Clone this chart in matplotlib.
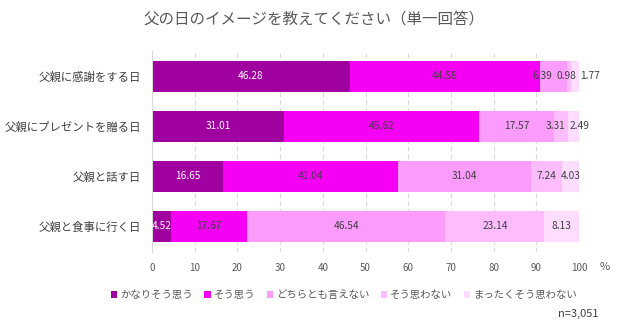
import numpy as np
import matplotlib
matplotlib.use('Agg')
import matplotlib.pyplot as plt

plt.rcParams['font.family'] = ['Noto Sans CJK JP', 'DejaVu Sans']

# データ
categories = ['父親に感謝をする日', '父親にプレゼントを贈る日', '父親と話す日', '父親と食事に行く日']
series_names = ['かなりそう思う', 'そう思う', 'どちらとも言えない', 'そう思わない', 'まったくそう思わない']
values = np.array([
    [46.28, 44.58, 6.39, 0.98, 1.77],
    [31.01, 45.62, 17.57, 3.31, 2.49],
    [16.65, 41.04, 31.04, 7.24, 4.03],
    [4.52, 17.67, 46.54, 23.14, 8.13],
])
colors = ['#A0009F', '#F500F5', '#FB9BFB', '#FDBCFD', '#FEDDFE']
label_colors = ['white', '#404040', '#404040', '#404040', '#404040']
xticks = list(range(0, 101, 10))

fig = plt.figure(figsize=(6.37, 3.34), dpi=100)
ax = fig.add_axes([0.2386, 0.247, 0.6704, 0.599])

y = np.arange(len(categories))
left = np.zeros(len(categories))
centers = []
for j, name in enumerate(series_names):
    ax.barh(y, values[:, j], left=left, height=0.62, color=colors[j], label=name, zorder=2)
    centers.append(left + values[:, j] / 2)
    left = left + values[:, j]
centers = np.array(centers).T

# ラベルが重ならないように広げる
def spread(pos, gap=5.5):
    pos = list(pos)
    groups = [[i] for i in range(len(pos))]
    changed = True
    while changed:
        changed = False
        placed = []
        for g in groups:
            m = np.mean([pos[i] for i in g])
            placed.append((g, m))
        new_groups = [placed[0][0]]
        for g, m in placed[1:]:
            prev = new_groups[-1]
            pm = np.mean([pos[i] for i in prev])
            pe = pm + (len(prev) - 1) * gap / 2
            cs = m - (len(g) - 1) * gap / 2
            if cs - pe < gap:
                new_groups[-1] = prev + g
                changed = True
            else:
                new_groups.append(g)
        groups = new_groups
    out = []
    for g in groups:
        m = np.mean([pos[i] for i in g])
        for k, i in enumerate(g):
            out.append(m + (k - (len(g) - 1) / 2) * gap)
    return out

for i in range(len(categories)):
    xs = spread(centers[i])
    for j in range(len(series_names)):
        ax.text(xs[j], y[i], f'{values[i, j]:.2f}', ha='center', va='center',
                fontsize=7.3, color=label_colors[j], zorder=3)

ax.set_xlim(0, 100)
ax.set_ylim(len(categories) - 0.5, -0.5)
ax.set_xticks(xticks)
ax.set_xticklabels([str(t) for t in xticks], fontsize=7, color='#595959')
ax.set_yticks(y)
ax.set_yticklabels(categories, fontsize=8.2, color='#404040')
ax.tick_params(axis='x', length=0, pad=8)
ax.tick_params(axis='y', length=0, pad=8)
ax.grid(axis='x', color='#D9D9D9', linestyle=(0, (4, 3)), linewidth=0.8, zorder=0)
for s in ['top', 'right', 'bottom']:
    ax.spines[s].set_visible(False)
ax.spines['left'].set_color('#D9D9D9')

fig.text(0.95, 0.2, '%', fontsize=8, color='#595959', ha='center', va='center')
fig.text(0.493, 0.94, '父の日のイメージを教えてください（単一回答）', fontsize=11.2,
         color='#595959', ha='center', va='center')

fig.legend(loc='center', bbox_to_anchor=(0.54, 0.117), ncol=5, frameon=False,
           fontsize=7.5, handlelength=0.6, handleheight=0.6, handletextpad=0.3,
           columnspacing=1.1, labelcolor='#595959')
fig.text(0.94, 0.06, 'n=3,051', fontsize=8, color='#404040', ha='right', va='center')

plt.savefig('out.png', dpi=100)
